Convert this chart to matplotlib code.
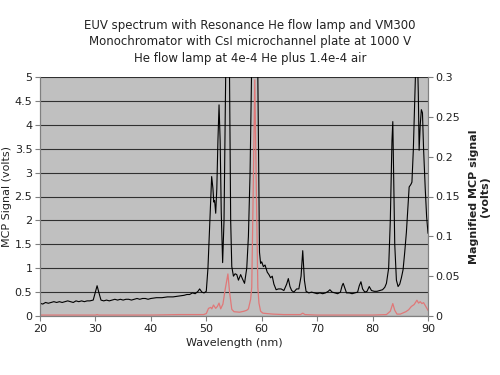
import matplotlib
matplotlib.use("Agg")
import matplotlib.pyplot as plt
from matplotlib.ticker import FuncFormatter

# Magnified MCP signal (right axis, volts)
mag_wl = [20.0, 20.5, 21.0, 21.5, 22.0, 22.5, 23.0, 23.5, 24.0, 24.5, 25.0, 25.5,
          26.0, 26.5, 27.0, 27.5, 28.0, 28.5, 29.0, 29.6, 30.0, 30.3, 30.6, 31.0,
          31.5, 32.0, 32.5, 33.0, 33.5, 34.0, 34.5, 35.0, 35.5, 36.0, 36.5, 37.0,
          37.5, 38.0, 38.5, 39.0, 39.5, 40.0, 41.0, 42.0, 43.0, 44.0, 45.0, 46.0,
          46.5, 47.0, 47.5, 48.0, 48.5, 48.8, 49.2, 49.6, 50.0, 50.3, 50.6, 50.97,
          51.2, 51.35, 51.5, 51.7, 51.9, 52.1, 52.3, 52.5, 52.7, 52.95, 53.2, 53.5,
          53.9, 54.2, 54.4, 54.6, 54.9, 55.2, 55.5, 55.8, 56.2, 56.5, 56.9, 57.3,
          57.6, 57.9, 58.2, 58.7, 59.3, 59.6, 59.8, 60.0, 60.3, 60.6, 61.0, 61.3,
          61.6, 61.9, 62.2, 62.6, 63.0, 63.5, 64.0, 64.5, 64.8, 65.1, 65.4, 65.8,
          66.3, 66.7, 67.1, 67.4, 67.7, 68.0, 68.5, 69.0, 69.5, 70.0, 70.5, 71.0,
          71.5, 72.0, 72.3, 72.7, 73.2, 73.7, 74.2, 74.5, 74.7, 75.0, 75.3, 75.8,
          76.3, 76.8, 77.3, 77.6, 77.9, 78.2, 78.6, 79.0, 79.4, 79.8, 80.3, 80.8,
          81.3, 81.8, 82.2, 82.5, 82.9, 83.2, 83.5, 83.65, 83.8, 84.0, 84.3, 84.6,
          84.9, 85.2, 85.5, 85.8, 86.1, 86.4, 86.6, 86.9, 87.1, 87.35, 87.6, 87.85,
          88.05, 88.25, 88.4, 88.6, 88.8, 89.0, 89.2, 89.5, 89.75, 90.0]
mag_sig = [0.016, 0.015, 0.017, 0.016, 0.017, 0.018, 0.017, 0.018, 0.017, 0.018, 0.019, 0.018,
           0.017, 0.019, 0.018, 0.019, 0.018, 0.019, 0.019, 0.020, 0.030, 0.038, 0.030, 0.020,
           0.019, 0.020, 0.019, 0.020, 0.021, 0.020, 0.021, 0.020, 0.021, 0.021, 0.020, 0.021,
           0.022, 0.021, 0.022, 0.022, 0.021, 0.022, 0.023, 0.023, 0.024, 0.024, 0.025, 0.026,
           0.027, 0.027, 0.029, 0.028, 0.031, 0.034, 0.030, 0.029, 0.031, 0.060, 0.110, 0.175,
           0.160, 0.143, 0.145, 0.129, 0.160, 0.220, 0.265, 0.220, 0.130, 0.067, 0.120, 0.300,
           0.550, 0.300, 0.120, 0.062, 0.050, 0.053, 0.052, 0.045, 0.052, 0.047, 0.041, 0.060,
           0.100, 0.180, 0.320, 1.200, 0.300, 0.080, 0.066, 0.068, 0.062, 0.064, 0.055, 0.052,
           0.048, 0.050, 0.040, 0.033, 0.034, 0.034, 0.032, 0.040, 0.047, 0.037, 0.032, 0.030,
           0.034, 0.034, 0.050, 0.082, 0.045, 0.031, 0.029, 0.030, 0.029, 0.028, 0.029, 0.028,
           0.029, 0.031, 0.033, 0.030, 0.029, 0.028, 0.030, 0.038, 0.041, 0.035, 0.029, 0.029,
           0.028, 0.029, 0.030, 0.038, 0.043, 0.034, 0.030, 0.031, 0.037, 0.032, 0.031, 0.031,
           0.032, 0.033, 0.036, 0.041, 0.060, 0.120, 0.220, 0.244, 0.180, 0.090, 0.045, 0.037,
           0.040, 0.048, 0.058, 0.080, 0.105, 0.140, 0.162, 0.165, 0.168, 0.208, 0.270, 0.330,
           0.340, 0.280, 0.208, 0.240, 0.259, 0.255, 0.210, 0.160, 0.125, 0.104]

# MCP signal (left axis, volts)
mcp_wl = [20.0, 25.0, 30.0, 30.3, 30.6, 40.0, 45.0, 49.5, 50.0, 50.4, 50.8, 51.0,
          51.3, 51.7, 52.0, 52.3, 52.6, 53.0, 53.4, 53.9, 54.2, 54.6, 55.0, 56.0,
          56.8, 57.3, 57.6, 58.0, 58.2, 58.45, 58.75, 59.05, 59.3, 59.5, 59.8, 60.2,
          61.0, 62.0, 64.0, 67.0, 67.4, 67.8, 70.0, 75.0, 80.0, 82.5, 83.2, 83.65,
          84.0, 84.4, 85.0, 86.0, 86.5, 87.0, 87.5, 88.0, 88.3, 88.6, 88.9, 89.2,
          89.6, 90.0]
mcp_sig = [0.02, 0.02, 0.02, 0.03, 0.02, 0.02, 0.03, 0.03, 0.05, 0.16, 0.18, 0.15,
           0.23, 0.16, 0.20, 0.27, 0.15, 0.25, 0.55, 0.88, 0.50, 0.14, 0.09, 0.08,
           0.10, 0.12, 0.15, 0.35, 0.60, 2.50, 4.94, 2.50, 0.60, 0.27, 0.10, 0.06,
           0.05, 0.04, 0.03, 0.03, 0.06, 0.03, 0.02, 0.02, 0.02, 0.03, 0.10, 0.26,
           0.12, 0.04, 0.04, 0.09, 0.13, 0.20, 0.24, 0.33, 0.27, 0.30, 0.26, 0.28,
           0.20, 0.12]

title = ("EUV spectrum with Resonance He flow lamp and VM300\n"
         "Monochromator with CsI microchannel plate at 1000 V\n"
         "He flow lamp at 4e-4 He plus 1.4e-4 air")

plt.rcParams['font.family'] = ['DejaVu Sans']

fig = plt.figure(figsize=(5, 3.75), dpi=100)
ax1 = fig.add_axes([0.08, 0.1573, 0.776, 0.6374])
ax1.set_facecolor('#c0c0c0')
ax2 = ax1.twinx()

ax1.plot(mcp_wl, mcp_sig, color='#e07878', lw=0.9)
ax2.plot(mag_wl, mag_sig, color='black', lw=0.8)

ax1.set_xlim(20, 90)
ax1.set_ylim(0, 5)
ax2.set_ylim(0, 0.3)
ax1.set_xticks(range(20, 91, 10))
ax1.set_yticks([i * 0.5 for i in range(11)])
ax2.set_yticks([i * 0.05 for i in range(7)])
fmt = FuncFormatter(lambda v, p: '%g' % round(v, 3))
ax1.yaxis.set_major_formatter(fmt)
ax2.yaxis.set_major_formatter(fmt)

ax1.grid(axis='y', color='#303030', lw=0.8)
ax1.set_axisbelow(True)

for ax in (ax1, ax2):
    ax.spines['top'].set_visible(False)
    for s in ('left', 'right', 'bottom'):
        ax.spines[s].set_color('#808080')
    ax.tick_params(labelsize=8, length=3.5, color='#808080', pad=2,
                   labelcolor='#222222')

ax1.set_xlabel('Wavelength (nm)', fontsize=8, labelpad=3, color='#222222')
ax1.set_ylabel('MCP Signal (volts)', fontsize=8, labelpad=2, color='#222222')
ax2.set_ylabel('Magnified MCP signal\n(volts)', fontsize=8, fontweight='bold',
               labelpad=6, color='#222222')
fig.text(0.5, 0.95, title, ha='center', va='top', fontsize=8.5,
         linespacing=1.35, color='#222222')

fig.savefig('out.png', dpi=100)
